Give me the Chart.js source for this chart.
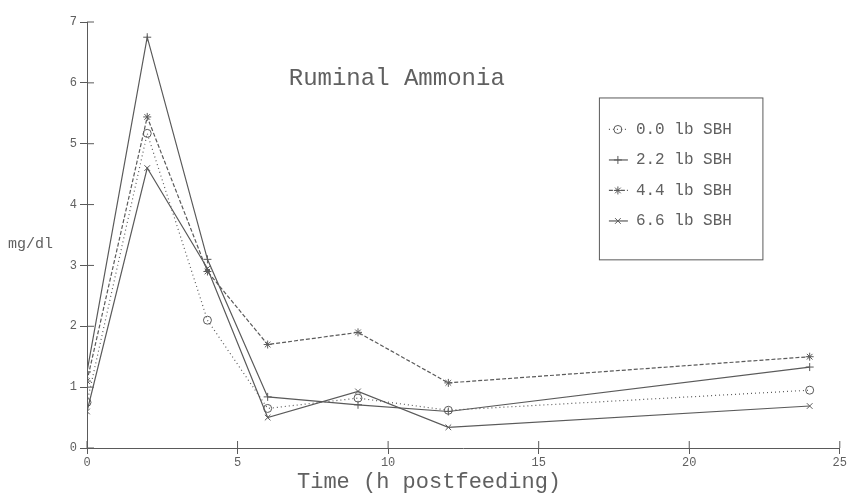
<!DOCTYPE html>
<html>
<head>
<meta charset="utf-8">
<script src="https://cdn.jsdelivr.net/npm/chart.js@4.4.1/dist/chart.umd.min.js"></script>
<style>
  html, body { margin: 0; padding: 0; background: #fff; }
  #wrap { width: 849px; height: 495px; }
</style>
</head>
<body>
<div id="wrap"><canvas id="myChart" width="849" height="495"></canvas></div>
<script>
// hours after feeding
const hours = [0, 2, 4, 6, 9, 12, 24];
const sbh0 = [0.75, 5.17, 2.1, 0.65, 0.82, 0.62, 0.95];
const sbh22 = [1.25, 6.75, 3.1, 0.84, 0.71, 0.6, 1.33];
const sbh44 = [1.1, 5.44, 2.9, 1.7, 1.9, 1.07, 1.5];
const sbh66 = [0.6, 4.6, 2.95, 0.5, 0.93, 0.34, 0.69];
const seriesNames = ['0.0 lb SBH', '2.2 lb SBH', '4.4 lb SBH', '6.6 lb SBH'];
const xTicks = [0, 5, 10, 15, 20, 25];
const yTicks = [0, 1, 2, 3, 4, 5, 6, 7];

const ink = '#5a5a5a';
const textInk = '#606060';
const mono = '"Liberation Mono", "DejaVu Sans Mono", monospace';

const toPoints = vals => vals.map((v, i) => ({x: hours[i], y: v}));

const extras = {
  id: 'extras',
  afterDraw(chart) {
    const ctx = chart.ctx;
    const xs = chart.scales.x, ys = chart.scales.y;
    ctx.save();
    ctx.strokeStyle = ink;
    ctx.lineWidth = 1;
    // inner half of the tick marks
    ctx.beginPath();
    yTicks.forEach(t => {
      const py = ys.getPixelForValue(t);
      ctx.moveTo(xs.left, py); ctx.lineTo(xs.left + 7, py);
    });
    xTicks.forEach(t => {
      const px = xs.getPixelForValue(t);
      ctx.moveTo(px, ys.bottom); ctx.lineTo(px, ys.bottom - 7);
    });
    ctx.stroke();

    ctx.fillStyle = textInk;
    ctx.textAlign = 'left';
    ctx.textBaseline = 'middle';
    // y label, horizontal
    ctx.font = '15px ' + mono;
    ctx.fillText('mg/dl', 8, ys.getPixelForValue(3.35));
    // x label, a bit left of centre like the original
    ctx.font = '22px ' + mono;
    ctx.fillText('Time (h postfeeding)', 297, 482);

    // title inside the plot
    ctx.font = '24px ' + mono;
    ctx.fillText('Ruminal Ammonia', xs.getPixelForValue(6.7), ys.getPixelForValue(6.07));

    // legend box
    const bx = xs.getPixelForValue(17), by = ys.getPixelForValue(5.76);
    const bw = xs.getPixelForValue(22.43) - bx, bh = ys.getPixelForValue(3.1) - by;
    ctx.strokeRect(bx + 0.5, by + 0.5, bw, bh);
    ctx.font = '16px ' + mono;
    chart.data.datasets.forEach((ds, i) => {
      const ry = by + 32 + i * 30.5;
      ctx.save();
      ctx.strokeStyle = ds.borderColor;
      ctx.fillStyle = 'rgba(0,0,0,0)';
      ctx.lineWidth = ds.borderWidth;
      ctx.setLineDash(ds.borderDash || []);
      ctx.beginPath();
      ctx.moveTo(bx + 10, ry); ctx.lineTo(bx + 29, ry);
      ctx.stroke();
      ctx.setLineDash([]);
      ctx.lineWidth = 1;
      Chart.helpers.drawPoint(ctx, {
        pointStyle: ds.pointStyle, radius: ds.pointRadius, rotation: 0, borderWidth: 1
      }, bx + 19, ry);
      ctx.restore();
      ctx.fillStyle = textInk;
      ctx.fillText(ds.label, bx + 37, ry);
    });
    ctx.restore();
  }
};

const makeSet = (label, vals, style, dash, width) => ({
  label: label,
  data: toPoints(vals),
  borderColor: ink,
  backgroundColor: 'rgba(0,0,0,0)',
  borderWidth: width,
  borderDash: dash,
  pointStyle: style,
  pointRadius: 4,
  pointBorderWidth: 1,
  pointBorderColor: ink,
  pointBackgroundColor: 'rgba(0,0,0,0)',
  tension: 0
});

new Chart(document.getElementById('myChart').getContext('2d'), {
  type: 'line',
  data: {
    datasets: [
      makeSet(seriesNames[0], sbh0, 'circle', [1, 3], 1.2),
      makeSet(seriesNames[1], sbh22, 'cross', [], 1.2),
      makeSet(seriesNames[2], sbh44, 'star', [4, 2], 1.2),
      makeSet(seriesNames[3], sbh66, 'crossRot', [], 1.2)
    ]
  },
  options: {
    responsive: false,
    animation: false,
    layout: { padding: { top: 22, right: 7, left: 0, bottom: 0 } },
    plugins: { legend: { display: false }, tooltip: { enabled: false } },
    scales: {
      x: {
        type: 'linear',
        min: 0, max: 25,
        afterBuildTicks: s => { s.ticks = xTicks.map(v => ({value: v})); },
        afterFit: s => { s.height = 47; },
        border: { color: ink, width: 1 },
        grid: { drawOnChartArea: false, tickLength: 6, color: ink },
        ticks: { color: textInk, font: { family: mono, size: 12 }, padding: 2, maxRotation: 0 }
      },
      y: {
        min: 0, max: 7,
        afterBuildTicks: s => { s.ticks = yTicks.map(v => ({value: v})); },
        afterFit: s => { s.width = 87; },
        border: { color: ink, width: 1 },
        grid: { drawOnChartArea: false, tickLength: 7, color: ink },
        ticks: { color: textInk, font: { family: mono, size: 12 }, padding: 3 }
      }
    }
  },
  plugins: [extras]
});
</script>
</body>
</html>
